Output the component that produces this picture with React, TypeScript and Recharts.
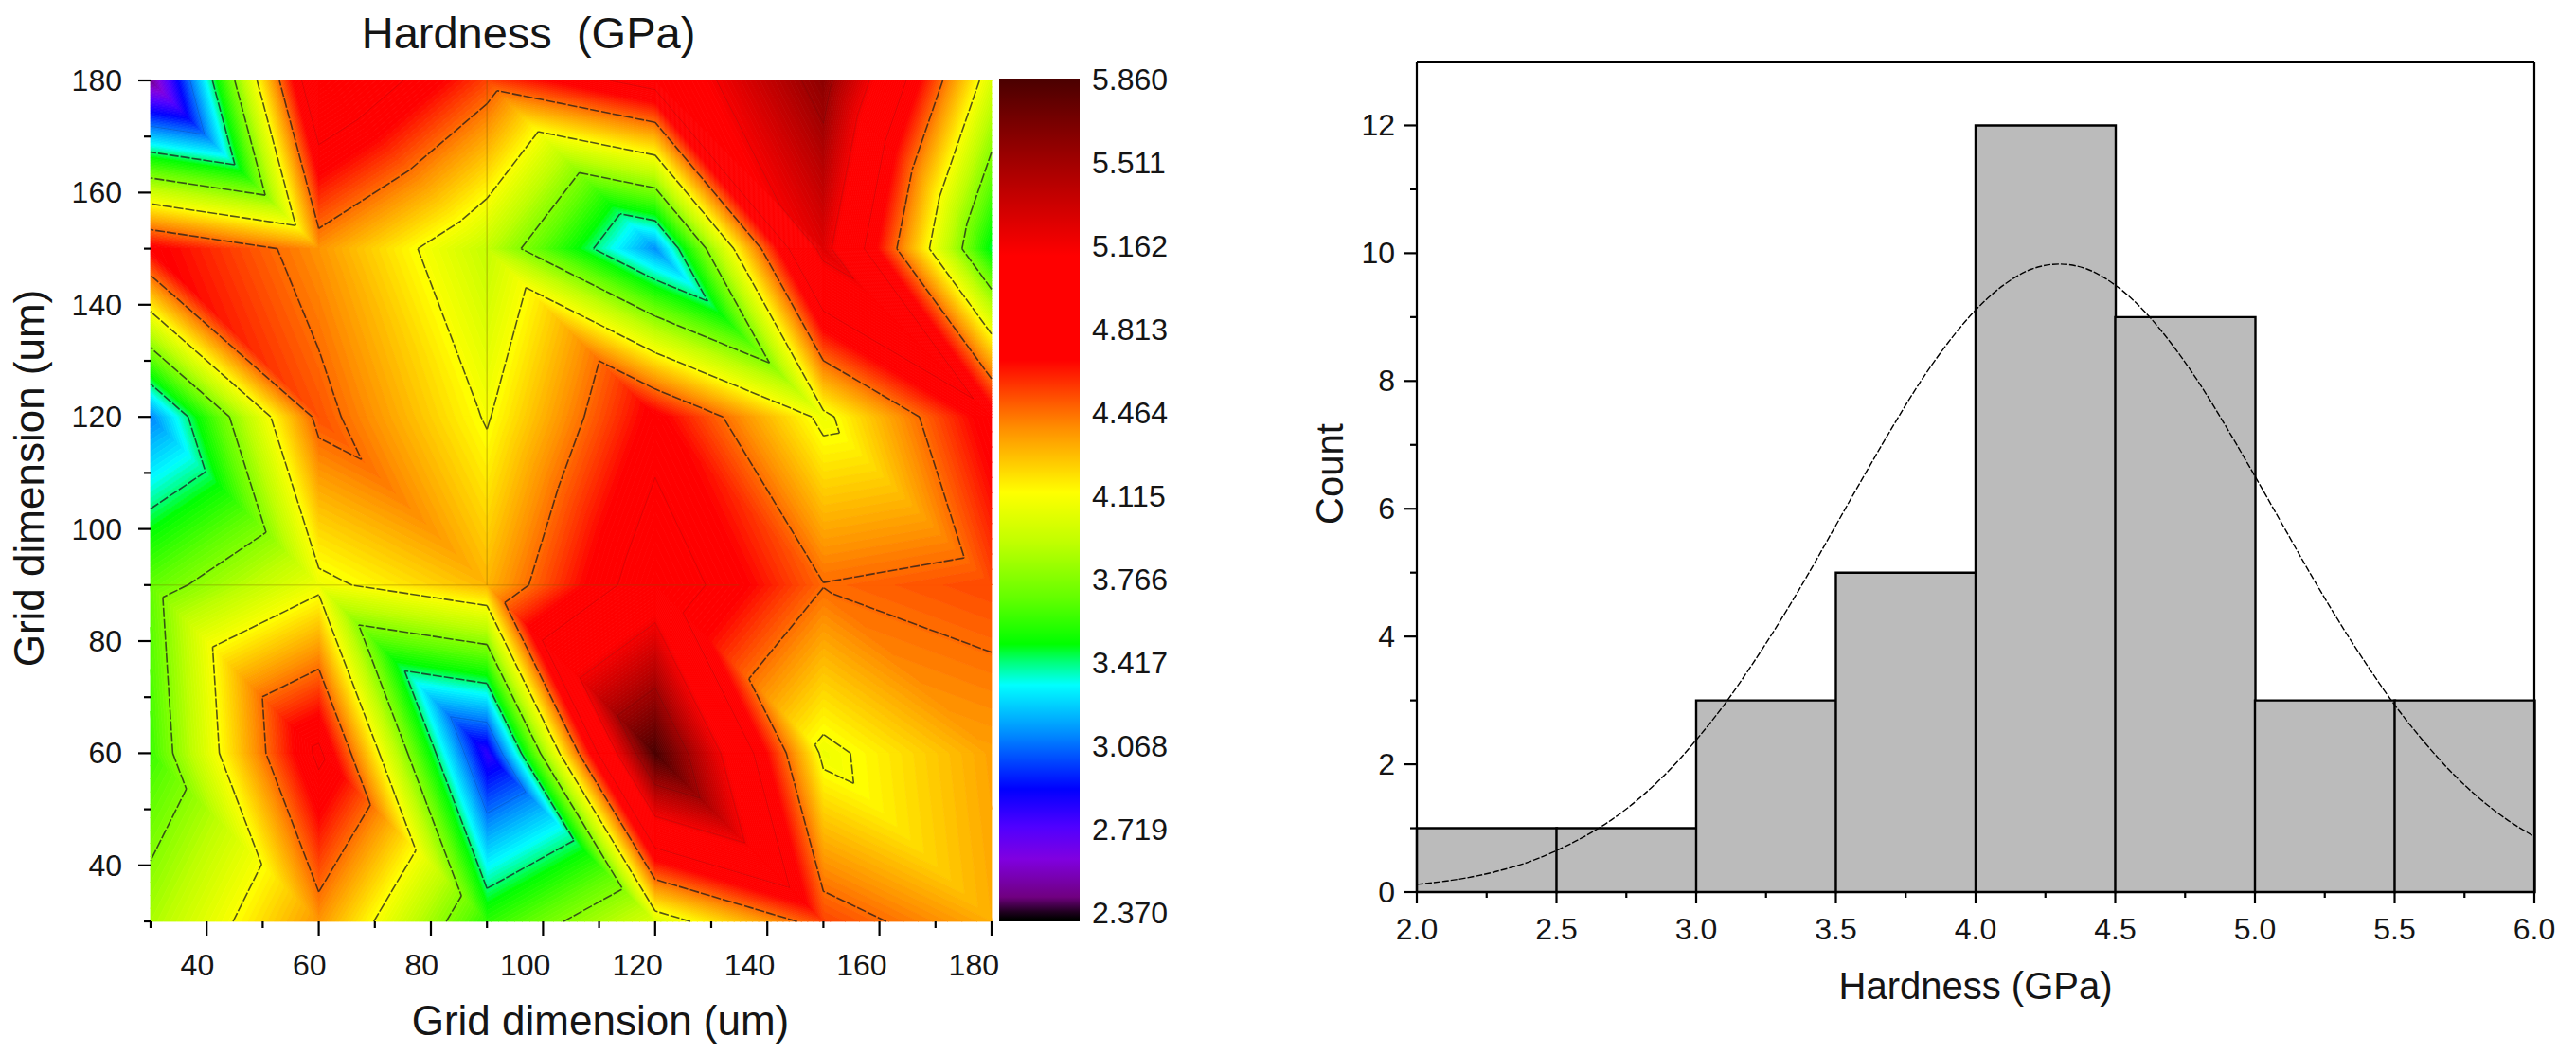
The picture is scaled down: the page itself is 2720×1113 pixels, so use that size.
import React from "react";
import {
  ComposedChart,
  Bar,
  Line,
  Scatter,
  XAxis,
  YAxis,
  ReferenceArea,
  ReferenceLine,
} from "recharts";

// hardness map (rows go from y=30 up to y=180)
const gridX = [30, 60, 90, 120, 150, 180];
const gridY = [30, 60, 90, 120, 150, 180];
const hardnessRow30 = [3.86, 4.38, 3.57, 4.0, 4.55, 4.32];
const hardnessRow60 = [3.6, 4.86, 2.79, 5.86, 4.07, 4.35];
const hardnessRow90 = [3.68, 4.07, 4.3, 4.96, 4.47, 4.54];
const hardnessRow120 = [3.1, 4.52, 4.1, 4.73, 4.07, 4.76];
const hardnessRow150 = [4.72, 4.38, 3.93, 3.12, 5.25, 3.45];
const hardnessRow180 = [2.45, 5.08, 4.55, 4.91, 5.6, 4.0];
const hardness = [hardnessRow30, hardnessRow60, hardnessRow90, hardnessRow120, hardnessRow150, hardnessRow180];
const nodeData = gridY.flatMap((y, r) => gridX.map((x, c) => ({ x, y, v: hardness[r][c] })));

const mapMajorTicks = [40, 60, 80, 100, 120, 140, 160, 180];
const mapMinorTicks = [30, 50, 70, 90, 110, 130, 150, 170];

const colorbarTicks = [2.37, 2.719, 3.068, 3.417, 3.766, 4.115, 4.464, 4.813, 5.162, 5.511, 5.86];
const colorbarData = colorbarTicks.map((y) => ({ x: 0.5, y }));
const contourLevels = [3.068, 3.417, 3.766, 4.115, 4.464, 4.813, 5.162, 5.511];

const stopValues = [2.33, 2.34, 2.37, 2.433, 2.592, 2.726, 2.885, 3.123, 3.321, 3.413, 3.492, 3.678, 3.916, 4.127, 4.257, 4.392, 4.523, 4.682, 5.118, 5.384, 5.647, 5.86];
const stopColors = ["#000000", "#000000", "#200020", "#700080", "#8000e0", "#5000ff", "#0000ff", "#0090ff", "#00ffff", "#00ff80", "#00ff00", "#60ff00", "#c0ff00", "#ffff00", "#ffc800", "#ff9000", "#ff5000", "#ff0000", "#ff0000", "#c00000", "#800000", "#4a0000"];

// histogram
const binCenters = [2.25, 2.75, 3.25, 3.75, 4.25, 4.75, 5.25, 5.75];
const binCounts = [1, 1, 3, 5, 12, 9, 3, 3];
const histData = binCenters.map((x, i) => ({ bin: x, count: binCounts[i] }));

const curveX = [2.0, 2.1, 2.2, 2.3, 2.4, 2.5, 2.6, 2.7, 2.8, 2.9, 3.0, 3.1, 3.2, 3.3, 3.4, 3.5, 3.6, 3.7, 3.8, 3.9, 4.0, 4.1, 4.2, 4.3, 4.4, 4.5, 4.6, 4.7, 4.8, 4.9, 5.0, 5.1, 5.2, 5.3, 5.4, 5.5, 5.6, 5.7, 5.8, 5.9, 6.0];
const curveY = [0.12, 0.17, 0.24, 0.34, 0.47, 0.65, 0.87, 1.14, 1.48, 1.89, 2.38, 2.93, 3.56, 4.24, 4.97, 5.74, 6.51, 7.26, 7.97, 8.59, 9.11, 9.5, 9.75, 9.83, 9.75, 9.5, 9.11, 8.59, 7.97, 7.26, 6.51, 5.74, 4.97, 4.24, 3.56, 2.93, 2.38, 1.89, 1.48, 1.14, 0.87];
const curveData = curveX.map((x, i) => ({ x, fit: curveY[i] }));

const histXMajor = [2, 2.5, 3, 3.5, 4, 4.5, 5, 5.5, 6];
const histXMinor = [2.25, 2.75, 3.25, 3.75, 4.25, 4.75, 5.25, 5.75];
const histYMajor = [0, 2, 4, 6, 8, 10, 12];
const histYMinor = [1, 3, 5, 7, 9, 11];

const FONT = "Liberation Sans, Arial, sans-serif";
const TEXT = "#151515";

const hexToRgb = (h: string) => [1, 3, 5].map((i) => parseInt(h.slice(i, i + 2), 16));

const colorFor = (v: number) => {
  let i = 0;
  while (i < stopValues.length - 2 && v > stopValues[i + 1]) i++;
  const t = Math.max(0, Math.min(1, (v - stopValues[i]) / (stopValues[i + 1] - stopValues[i])));
  const a = hexToRgb(stopColors[i]);
  const b = hexToRgb(stopColors[i + 1]);
  return `rgb(${a.map((c, k) => Math.round(c + (b[k] - c) * t)).join(",")})`;
};

type Vert = { x: number; y: number; v: number };

// grid cells split along the top-left to bottom-right diagonal
const triangles: Vert[][] = [];
for (let r = 0; r < gridY.length - 1; r++) {
  for (let c = 0; c < gridX.length - 1; c++) {
    const bl = { x: gridX[c], y: gridY[r], v: hardness[r][c] };
    const br = { x: gridX[c + 1], y: gridY[r], v: hardness[r][c + 1] };
    const tl = { x: gridX[c], y: gridY[r + 1], v: hardness[r + 1][c] };
    const tr = { x: gridX[c + 1], y: gridY[r + 1], v: hardness[r + 1][c + 1] };
    triangles.push([bl, br, tl], [br, tr, tl]);
  }
}

const lerpVert = (a: Vert, b: Vert, level: number): Vert => {
  const t = (level - a.v) / (b.v - a.v);
  return { x: a.x + (b.x - a.x) * t, y: a.y + (b.y - a.y) * t, v: level };
};

// keep the part of a polygon on one side of a level
const clip = (poly: Vert[], level: number, above: boolean) => {
  const out: Vert[] = [];
  poly.forEach((p, i) => {
    const q = poly[(i + 1) % poly.length];
    const pIn = above ? p.v >= level : p.v <= level;
    const qIn = above ? q.v >= level : q.v <= level;
    if (pIn) out.push(p);
    if (pIn !== qIn) out.push(lerpVert(p, q, level));
  });
  return out;
};

const ContourMap = ({ x, y, width, height }: any) => {
  const px = (v: number) => x + ((v - 30) / 150) * width;
  const py = (v: number) => y + height - ((v - 30) / 150) * height;
  const bands: React.ReactElement[] = [];
  const step = 0.02;
  for (let lo = 2.34; lo < 5.88; lo += step) {
    let d = "";
    triangles.forEach((tri) => {
      const part = clip(clip(tri, lo, true), lo + step, false);
      if (part.length > 2) {
        d += "M" + part.map((p) => `${px(p.x).toFixed(2)} ${py(p.y).toFixed(2)}`).join("L") + "Z";
      }
    });
    if (d) {
      const col = colorFor(lo + step / 2);
      bands.push(<path key={lo} d={d} fill={col} stroke={col} strokeWidth={0.8} />);
    }
  }
  const lines = contourLevels.map((level) => {
    let d = "";
    triangles.forEach((tri) => {
      const pts: Vert[] = [];
      tri.forEach((p, i) => {
        const q = tri[(i + 1) % 3];
        if (p.v < level !== q.v < level) pts.push(lerpVert(p, q, level));
      });
      if (pts.length === 2) {
        d += `M${px(pts[0].x).toFixed(2)} ${py(pts[0].y).toFixed(2)}L${px(pts[1].x).toFixed(2)} ${py(pts[1].y).toFixed(2)}`;
      }
    });
    const faint = level > 4.5 || level < 3.1;
    return (
      <path
        key={level}
        d={d}
        fill="none"
        stroke="#1c1c1c"
        strokeWidth={faint ? 1 : 1.6}
        strokeOpacity={faint ? 0.16 : 0.75}
        strokeDasharray={faint ? undefined : "10 2"}
      />
    );
  });
  return (
    <g>
      {bands}
      {lines}
    </g>
  );
};

const MapXTick = ({ x, y, payload }: any) => {
  const major = mapMajorTicks.includes(payload.value);
  return (
    <g>
      <line x1={x} y1={y} x2={x} y2={y + (major ? 15 : 7)} stroke="#000" strokeWidth={2.2} />
      {major && (
        <text x={x + 8} y={y + 57} textAnchor="end" fontSize={32} fontFamily={FONT} fill={TEXT}>
          {payload.value}
        </text>
      )}
    </g>
  );
};

const HistXTick = ({ x, y, payload }: any) => {
  const major = histXMajor.includes(payload.value);
  return (
    <g>
      <line x1={x} y1={y} x2={x} y2={y + (major ? 12 : 6)} stroke="#000" strokeWidth={2.2} />
      {major && (
        <text x={x} y={y + 50} textAnchor="middle" fontSize={32} fontFamily={FONT} fill={TEXT}>
          {payload.value.toFixed(1)}
        </text>
      )}
    </g>
  );
};

const YTick = ({ x, y, payload, majors, gap = 23, len = 13, minorLen = 7 }: any) => {
  const major = majors.includes(payload.value);
  return (
    <g>
      <line x1={x} y1={y} x2={x - (major ? len : minorLen)} y2={y} stroke="#000" strokeWidth={2.2} />
      {major && (
        <text x={x - gap} y={y + 11} textAnchor="end" fontSize={32} fontFamily={FONT} fill={TEXT}>
          {payload.value}
        </text>
      )}
    </g>
  );
};

const ColorbarTick = ({ x, y, payload }: any) => (
  <text x={x + 13} y={y + 12} fontSize={32} fontFamily={FONT} fill={TEXT}>
    {payload.value.toFixed(3)}
  </text>
);

const NoMark = () => <g />;

const box = (left: number): React.CSSProperties => ({ position: "absolute", left, top: 0 });

export default function App() {
  return (
    <div style={{ position: "absolute", left: 0, top: 0, width: 2720, height: 1113, background: "#fff", overflow: "hidden" }}>
      <div style={{ position: "absolute", left: 558, top: 34, transform: "translate(-50%,-50%)", fontSize: 47, fontFamily: FONT, color: TEXT, whiteSpace: "pre" }}>
        Hardness  (GPa)
      </div>

      <div style={box(0)}>
        <ComposedChart width={1080} height={1113} margin={{ top: 85, right: 33, bottom: 40, left: 59 }} data={nodeData}>
          <XAxis
            type="number"
            dataKey="x"
            domain={[30, 180]}
            ticks={[...mapMinorTicks, ...mapMajorTicks].sort((a, b) => a - b)}
            interval={0}
            height={100}
            tickSize={0}
            tickMargin={0}
            axisLine={false}
            tickLine={false}
            tick={<MapXTick />}
            label={{ value: "Grid dimension (um)", position: "center", dx: 31, dy: 54, fontSize: 44, fontFamily: FONT, fill: TEXT }}
          />
          <YAxis
            type="number"
            dataKey="y"
            domain={[30, 180]}
            ticks={[...mapMinorTicks, ...mapMajorTicks].sort((a, b) => a - b)}
            interval={0}
            width={100}
            tickSize={0}
            tickMargin={0}
            axisLine={false}
            tickLine={false}
            tick={<YTick majors={mapMajorTicks} gap={30} />}
            label={{ value: "Grid dimension (um)", angle: -90, position: "center", dx: -79, dy: -24, fontSize: 44, fontFamily: FONT, fill: TEXT }}
          />
          <ReferenceArea x1={30} x2={180} y1={30} y2={180} shape={<ContourMap />} />
          <ReferenceLine segment={[{ x: 90, y: 90 }, { x: 90, y: 180 }]} stroke="#7a5a00" strokeOpacity={0.3} strokeWidth={1.5} />
          <ReferenceLine segment={[{ x: 30, y: 90 }, { x: 135, y: 90 }]} stroke="#7a5a00" strokeOpacity={0.25} strokeWidth={1.5} />
          <Scatter dataKey="y" shape={<NoMark />} isAnimationActive={false} />
        </ComposedChart>
      </div>

      <div style={box(1050)}>
        <ComposedChart width={220} height={1113} margin={{ top: 83, right: 0, bottom: 150, left: 5 }} data={colorbarData}>
          <defs>
            <linearGradient id="hardnessScale" x1="0" y1="1" x2="0" y2="0">
              {stopValues.map((v, i) => (
                <stop key={v} offset={(v - 2.33) / (5.86 - 2.33)} stopColor={stopColors[i]} />
              ))}
            </linearGradient>
          </defs>
          <XAxis type="number" dataKey="x" domain={[0, 1]} hide />
          <YAxis
            type="number"
            dataKey="y"
            orientation="right"
            domain={[2.37, 5.86]}
            ticks={colorbarTicks}
            interval={0}
            width={130}
            tickSize={0}
            tickMargin={0}
            axisLine={false}
            tickLine={false}
            tick={<ColorbarTick />}
          />
          <ReferenceArea x1={0} x2={1} y1={2.33} y2={5.86} ifOverflow="visible" fill="url(#hardnessScale)" fillOpacity={1} stroke="none" />
          <Scatter dataKey="y" shape={<NoMark />} isAnimationActive={false} />
        </ComposedChart>
      </div>

      <div style={box(1360)}>
        <ComposedChart width={1360} height={1113} margin={{ top: 65, right: 44, bottom: 71, left: 36 }} data={histData} barCategoryGap={0} barGap={0}>
          <XAxis xAxisId="bins" type="category" dataKey="bin" hide height={0} />
          <XAxis
            xAxisId="value"
            type="number"
            dataKey="x"
            domain={[2, 6]}
            allowDataOverflow
            ticks={[...histXMajor, ...histXMinor].sort((a, b) => a - b)}
            interval={0}
            height={100}
            tickSize={0}
            tickMargin={0}
            axisLine={{ stroke: "#000", strokeWidth: 2.2 }}
            tickLine={false}
            tick={<HistXTick />}
            label={{ value: "Hardness (GPa)", position: "center", dy: 49, fontSize: 40, fontFamily: FONT, fill: TEXT }}
          />
          <YAxis
            type="number"
            domain={[0, 13]}
            ticks={[...histYMajor, ...histYMinor].sort((a, b) => a - b)}
            interval={0}
            width={100}
            tickSize={0}
            tickMargin={0}
            axisLine={{ stroke: "#000", strokeWidth: 2.2 }}
            tickLine={false}
            tick={<YTick majors={histYMajor} />}
            label={{ value: "Count", angle: -90, position: "center", dx: -42, dy: -3, fontSize: 40, fontFamily: FONT, fill: TEXT }}
          />
          <Bar xAxisId="bins" dataKey="count" fill="#bbbbbb" stroke="#000" strokeWidth={2.4} isAnimationActive={false} />
          <Line xAxisId="value" data={curveData} dataKey="fit" type="monotone" stroke="#000" strokeWidth={1.4} strokeDasharray="7 2" dot={false} isAnimationActive={false} />
          <ReferenceLine xAxisId="value" y={13} stroke="#000" strokeWidth={2.2} />
          <ReferenceLine xAxisId="value" x={6} stroke="#000" strokeWidth={2.2} />
        </ComposedChart>
      </div>
    </div>
  );
}
